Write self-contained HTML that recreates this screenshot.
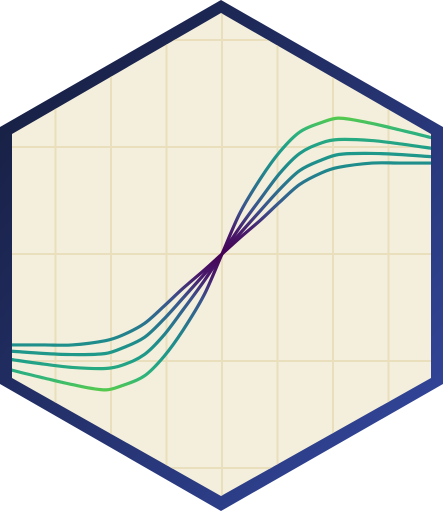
<!DOCTYPE html>
<html><head><meta charset="utf-8"><style>
html,body{margin:0;padding:0;background:#fff;width:443px;height:512px;overflow:hidden}
svg{display:block}
</style></head><body>
<svg id="chart" width="443" height="512" viewBox="0 0 443 512" xmlns="http://www.w3.org/2000/svg">
<defs>
<linearGradient id="border" x1="0" y1="0" x2="1" y2="1">
<stop offset="0" stop-color="#141b38"/><stop offset="1" stop-color="#3549a3"/>
</linearGradient>
<clipPath id="inner"><polygon points="221,13 12,134 12,378 221,496 431,378 431,134"/></clipPath>
</defs>
<polygon points="221,0 0,127 0,384 221,511 443,384 443,127" fill="url(#border)"/>
<polygon points="221,13 12,134 12,378 221,496 431,378 431,134" fill="#f4efdc"/>
<g id="grid" clip-path="url(#inner)"></g>
<g id="lines" clip-path="url(#inner)"></g>
</svg>
<script>
const xSamples = [-4,-3.75,-3.2,-2.7,-2.1,-1.8,-1.4,-1.05,-0.7,-0.32,0,0.32,0.7,1.05,1.4,1.8,2.1,2.7,3.2,3.75,4];
const series1 = [-1.05,-1.09,-1.16,-1.22,-1.27,-1.23,-1.14,-0.96,-0.71,-0.38,0,0.38,0.71,0.96,1.14,1.23,1.27,1.22,1.16,1.09,1.05];
const series2 = [-0.97,-0.99,-1.03,-1.06,-1.07,-1.04,-0.94,-0.76,-0.52,-0.25,0,0.25,0.52,0.76,0.94,1.04,1.07,1.06,1.03,0.99,0.97];
const series3 = [-0.90,-0.91,-0.93,-0.94,-0.93,-0.88,-0.78,-0.61,-0.41,-0.19,0,0.19,0.41,0.61,0.78,0.88,0.93,0.94,0.93,0.91,0.90];
const series4 = [-0.85,-0.85,-0.85,-0.85,-0.81,-0.76,-0.65,-0.49,-0.32,-0.15,0,0.15,0.32,0.49,0.65,0.76,0.81,0.85,0.85,0.85,0.85];
const xTicks = [-3,-2,-1,0,1,2,3];
const yTicks = [-2,-1,0,1,2];

const NS = "http://www.w3.org/2000/svg";
const cx = 222, cy = 254, sx = 55.5, sy = 107;
const X = u => cx + u * sx;
const Y = v => cy - v * sy;
const svg = document.getElementById('chart');
const grid = document.getElementById('grid');
const lines = document.getElementById('lines');

xTicks.forEach(t => {
  const l = document.createElementNS(NS, 'line');
  
  
  l.setAttribute('x1', X(t)); l.setAttribute('x2', X(t));
  l.setAttribute('y1', 0); l.setAttribute('y2', 512);
  l.setAttribute('stroke', '#e9dfbd'); l.setAttribute('stroke-width', '2');
  grid.appendChild(l);
});
yTicks.forEach(t => {
  const l = document.createElementNS(NS, 'line');
  
  
  l.setAttribute('x1', 0); l.setAttribute('x2', 443);
  l.setAttribute('y1', Y(t)); l.setAttribute('y2', Y(t));
  l.setAttribute('stroke', '#e9dfbd'); l.setAttribute('stroke-width', '2');
  grid.appendChild(l);
});

function smoothPath(xs, ys) {
  const n = xs.length;
  const m = xs.map((x, i) => {
    const a = Math.max(0, i - 1), b = Math.min(n - 1, i + 1);
    return (ys[b] - ys[a]) / (xs[b] - xs[a]);
  });
  let d = `M${X(xs[0])},${Y(ys[0])}`;
  for (let i = 0; i < n - 1; i++) {
    const h = xs[i + 1] - xs[i];
    const c1x = xs[i] + h / 3, c1y = ys[i] + m[i] * h / 3;
    const c2x = xs[i + 1] - h / 3, c2y = ys[i + 1] - m[i + 1] * h / 3;
    d += ` C${X(c1x)},${Y(c1y)} ${X(c2x)},${Y(c2y)} ${X(xs[i + 1])},${Y(ys[i + 1])}`;
  }
  return d;
}

const defs = svg.querySelector('defs');
const g = document.createElementNS(NS, 'linearGradient');
g.setAttribute('id', 'viridis');
g.setAttribute('gradientUnits', 'userSpaceOnUse');
g.setAttribute('x1', 0); g.setAttribute('x2', 0);
g.setAttribute('y1', Y(1.3)); g.setAttribute('y2', Y(-1.3));
[[0, '#5ccd45'], [0.06, '#2fb47c'], [0.12, '#1f9e89'], [0.19, '#1f8a8c'], [0.27, '#2c6d8e'], [0.34, '#3b518b'], [0.42, '#481a6c'], [0.5, '#440154'],
 [0.58, '#481a6c'], [0.66, '#3b518b'], [0.73, '#2c6d8e'], [0.81, '#1f8a8c'], [0.88, '#1f9e89'], [0.94, '#2fb47c'], [1, '#5ccd45']].forEach(([o, c]) => {
  const st = document.createElementNS(NS, 'stop');
  st.setAttribute('offset', o); st.setAttribute('stop-color', c);
  g.appendChild(st);
});
defs.appendChild(g);

[series4, series3, series2, series1].forEach((s, k) => {
  const idx = 3 - k;
  const p = document.createElementNS(NS, 'path');
  
  
  p.setAttribute('d', smoothPath(xSamples, s));
  p.setAttribute('fill', 'none');
  p.setAttribute('stroke', 'url(#viridis)');
  p.setAttribute('stroke-width', '3.2');
  p.setAttribute('stroke-linecap', 'round');
  lines.appendChild(p);
});
</script>
</body></html>
